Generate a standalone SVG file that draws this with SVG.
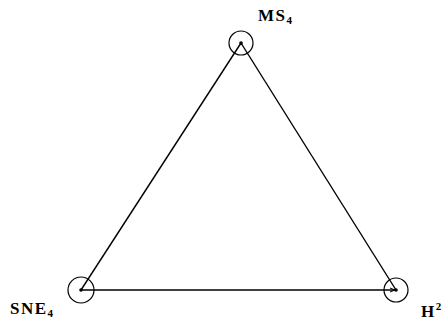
<svg xmlns="http://www.w3.org/2000/svg" width="442" height="326" viewBox="0 0 442 326">
<defs>
<style>
.ring{fill:none;stroke:#000;stroke-width:1.2}
.dot{fill:#000}
.edge{fill:none;stroke:#000;stroke-width:1.4}
.lbl{font-family:"Liberation Serif","DejaVu Serif",serif;font-weight:bold;font-size:17px;letter-spacing:1.5px;fill:#000}
.sub{font-size:11px;letter-spacing:0}
</style>
<marker id="ah" markerWidth="6" markerHeight="6" refX="5" refY="3" orient="auto" markerUnits="userSpaceOnUse">
<path d="M0,1 L5,3 L0,5" fill="none" stroke="#000" stroke-width="1"/>
</marker>
</defs>
<rect width="442" height="326" fill="#fff"/>
<g id="connectors">
<line class="edge" x1="241" y1="43" x2="81" y2="290"/>
<line class="edge" x1="241" y1="43" x2="396" y2="290"/>
<line class="edge" x1="81" y1="290" x2="395" y2="290" marker-end="url(#ah)"/>
</g>
<g id="MS4">
<circle class="ring" cx="241" cy="43" r="12"/>
<circle class="dot" cx="241" cy="43" r="1.8"/>
<text class="lbl" x="258" y="21">MS<tspan class="sub" dy="3">4</tspan></text>
</g>
<g id="SNE4">
<circle class="ring" cx="81" cy="290" r="13"/>
<circle class="dot" cx="81" cy="290" r="1.8"/>
<text class="lbl" x="10" y="314">SNE<tspan class="sub" dy="3">4</tspan></text>
</g>
<g id="H2">
<circle class="ring" cx="396" cy="290" r="12"/>
<circle class="dot" cx="396" cy="290" r="1.8"/>
<text class="lbl" x="421" y="317">H<tspan class="sub" dy="-7">2</tspan></text>
</g>
</svg>
